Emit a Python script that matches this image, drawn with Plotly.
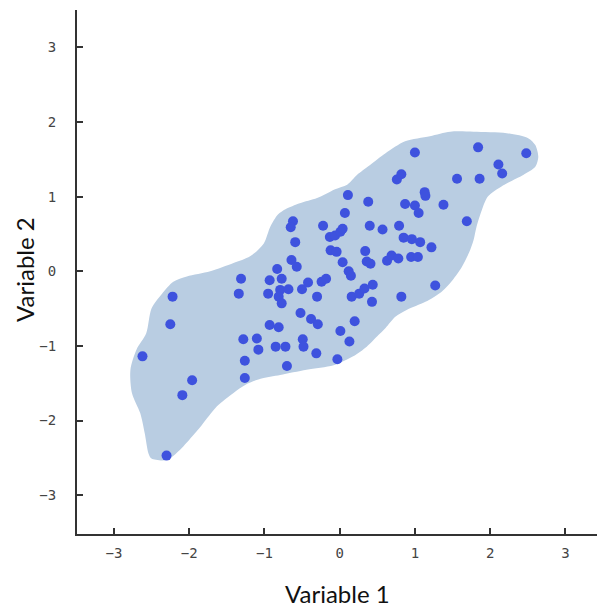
import plotly.graph_objects as go

# Scatter points (Variable 1, Variable 2)
var1 = [1.00, 1.84, 2.48, 2.11, 2.16, 1.56, 1.86, 0.76, 0.82, 1.13, 1.14, 0.11, 0.38, 0.87,
        1.00, 1.05, 1.38, 1.69, 0.07, -0.62, -0.65, -0.22, 0.40, 0.57, 0.79, -0.13, -0.06,
        0.01, 0.04, -0.59, 0.85, 0.96, 1.07, 1.22, -0.12, -0.04, 0.34, -0.64, -0.57, 0.36,
        0.41, 0.63, 0.69, 0.78, 0.95, 1.04, 0.04, 0.12, 0.15, -0.83, -0.77, -0.93, -1.31,
        -1.34, -0.95, -0.79, -0.68, -0.81, -0.77, -0.50, -0.42, -0.24, -0.18, -0.30, 1.27,
        0.82, 0.16, 0.26, 0.33, 0.44, 0.43, 0.20, 0.01, 0.13, -0.52, -0.38, -0.29, -0.93,
        -0.81, -1.28, -1.10, -1.08, -1.26, -1.26, -0.85, -0.72, -0.70, -0.49, -0.48, -0.31,
        -0.03, -2.22, -2.25, -2.62, -1.96, -2.09, -2.30]
var2 = [1.59, 1.66, 1.58, 1.43, 1.31, 1.24, 1.24, 1.23, 1.30, 1.06, 1.01, 1.02, 0.93, 0.90,
        0.88, 0.78, 0.89, 0.67, 0.78, 0.67, 0.59, 0.61, 0.61, 0.56, 0.61, 0.46, 0.48,
        0.53, 0.57, 0.39, 0.45, 0.43, 0.39, 0.32, 0.28, 0.26, 0.27, 0.15, 0.06, 0.13,
        0.10, 0.14, 0.21, 0.17, 0.19, 0.19, 0.12, 0.00, -0.06, 0.03, -0.10, -0.12, -0.10,
        -0.30, -0.30, -0.25, -0.24, -0.34, -0.43, -0.24, -0.15, -0.14, -0.10, -0.34, -0.19,
        -0.34, -0.34, -0.30, -0.23, -0.18, -0.41, -0.67, -0.80, -0.94, -0.56, -0.64, -0.71, -0.72,
        -0.75, -0.91, -0.90, -1.05, -1.20, -1.43, -1.01, -1.01, -1.27, -0.91, -1.01, -1.10,
        -1.18, -0.34, -0.71, -1.14, -1.46, -1.66, -2.47]

# Outline of the shaded region (data units)
region_x = [-2.50, -2.30, -2.12, -1.94, -1.83, -1.63, -1.41, -1.25, -1.05, -0.79, -0.44, -0.08,
            0.18, 0.36, 0.50, 0.61, 0.74, 0.89, 1.14, 1.36, 1.50, 1.62, 1.72, 1.78, 1.82, 1.89,
            1.97, 2.17, 2.44, 2.60, 2.64, 2.60, 2.51, 2.22, 1.78, 1.47, 1.20, 0.87, 0.61, 0.40,
            0.23, 0.10, -0.06, -0.30, -0.53, -0.72, -0.82, -0.92, -1.01, -1.19, -1.41, -1.72,
            -2.03, -2.21, -2.36, -2.50, -2.57, -2.70, -2.78, -2.76, -2.65, -2.59, -2.54, -2.50]
region_y = [-2.51, -2.53, -2.39, -2.19, -2.06, -1.81, -1.63, -1.52, -1.44, -1.39, -1.32, -1.26,
            -1.14, -1.01, -0.87, -0.76, -0.61, -0.52, -0.41, -0.27, -0.12, 0.05, 0.25, 0.42, 0.60,
            0.82, 1.00, 1.15, 1.29, 1.40, 1.53, 1.69, 1.78, 1.85, 1.87, 1.87, 1.81, 1.74, 1.58,
            1.42, 1.29, 1.16, 1.10, 0.98, 0.91, 0.83, 0.76, 0.60, 0.37, 0.20, 0.11, 0.00,
            -0.07, -0.14, -0.30, -0.50, -0.83, -1.05, -1.32, -1.63, -1.90, -2.17, -2.44, -2.51]

tick_vals = [-3, -2, -1, 0, 1, 2, 3]
tick_text = ["\u22123", "\u22122", "\u22121", "0", "1", "2", "3"]

fig = go.Figure()
fig.add_trace(go.Scatter(x=region_x, y=region_y, mode="lines", fill="toself",
                         fillcolor="rgb(185,205,226)", line=dict(width=0, shape="spline", smoothing=0.8),
                         hoverinfo="skip", showlegend=False))
fig.add_trace(go.Scatter(x=var1, y=var2, mode="markers",
                         marker=dict(size=10, color="rgb(62,82,222)", line=dict(width=0)),
                         showlegend=False))

axis_common = dict(showgrid=False, zeroline=False, showline=True, linecolor="#333", linewidth=2,
                   ticks="inside", ticklen=6, tickwidth=1.5, tickcolor="#333",
                   tickvals=tick_vals, ticktext=tick_text,
                   tickfont=dict(family="DejaVu Sans Mono", size=14, color="#444"))

fig.update_xaxes(range=[-3.49, 3.42], ticklabelstandoff=5, **axis_common)
fig.update_yaxes(range=[-3.52, 3.50], ticklabelstandoff=16, **axis_common)

fig.update_layout(
    width=597, height=610,
    margin=dict(l=77, r=0, t=10, b=76),
    plot_bgcolor="white", paper_bgcolor="white",
    annotations=[
        dict(text="Variable 1", xref="paper", yref="paper", x=0.5, y=-0.114,
             xanchor="center", yanchor="middle", showarrow=False,
             font=dict(family="Lato", size=24, color="#111")),
        dict(text="Variable 2", xref="paper", yref="paper", x=-0.1, y=0.504,
             xanchor="center", yanchor="middle", showarrow=False, textangle=-90,
             font=dict(family="Lato", size=24, color="#111")),
    ],
)

fig.write_html("out.html")
